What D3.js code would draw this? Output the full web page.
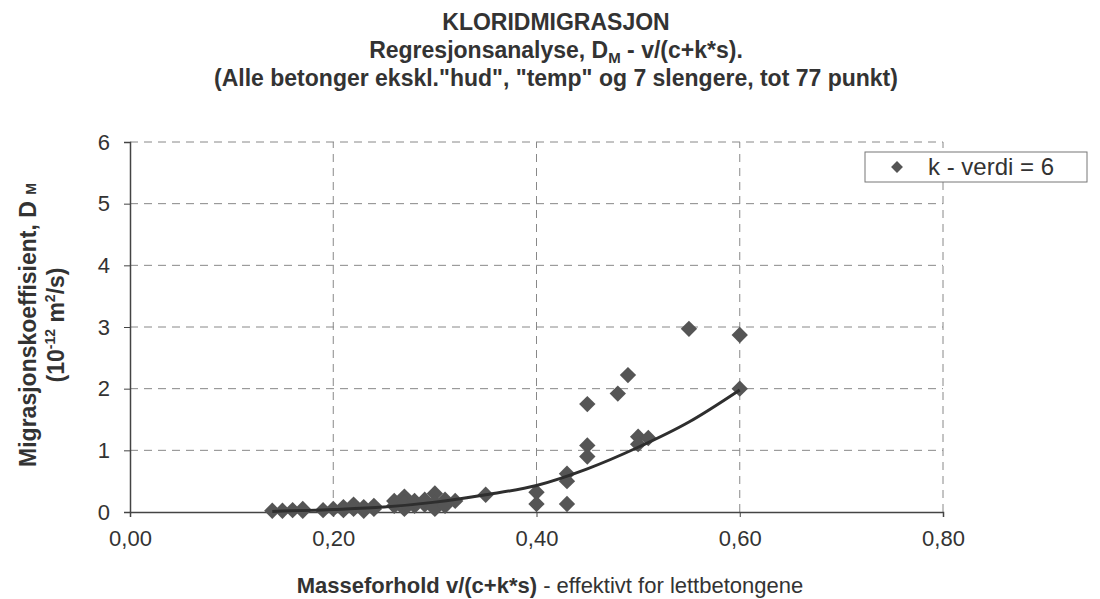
<!DOCTYPE html>
<html>
<head>
  <meta charset="utf-8">
  <title>Kloridmigrasjon</title>
  <script src="https://d3js.org/d3.v7.min.js"></script>
  <style>
    body { margin: 0; background: #fff; }
    svg text { font-family: "Liberation Sans", Arial, sans-serif; fill: #333; }
  </style>
</head>
<body>
  <svg id="chart" width="1100" height="599"></svg>

  <script>
    const massRatio = [0.14, 0.15, 0.16, 0.17, 0.17, 0.19, 0.20, 0.21, 0.21, 0.22, 0.22, 0.23, 0.23, 0.24, 0.24,
      0.26, 0.26, 0.27, 0.27, 0.27, 0.28, 0.28, 0.29, 0.29, 0.30, 0.30, 0.30, 0.31, 0.31, 0.32, 0.35,
      0.40, 0.40, 0.43, 0.43, 0.43, 0.45, 0.45, 0.45, 0.48, 0.49, 0.50, 0.50, 0.51, 0.55, 0.60, 0.60];
    const migration = [0.02, 0.02, 0.03, 0.05, 0.02, 0.03, 0.05, 0.08, 0.03, 0.12, 0.05, 0.02, 0.08, 0.05, 0.10,
      0.10, 0.18, 0.05, 0.25, 0.15, 0.10, 0.18, 0.12, 0.20, 0.30, 0.15, 0.05, 0.20, 0.10, 0.18, 0.28,
      0.32, 0.13, 0.62, 0.50, 0.13, 1.75, 1.08, 0.90, 1.92, 2.22, 1.22, 1.10, 1.20, 2.97, 2.87, 2.00];

    // trend line
    const trendX = [0.14, 0.20, 0.25, 0.30, 0.35, 0.40, 0.45, 0.50, 0.55, 0.60];
    const trendY = [0.01, 0.04, 0.08, 0.16, 0.28, 0.43, 0.70, 1.05, 1.46, 1.98];

    const xTicks = [0, 0.2, 0.4, 0.6, 0.8];
    const yTicks = [0, 1, 2, 3, 4, 5, 6];
    const legendLabel = "k - verdi = 6";

    const svg = d3.select("svg#chart");
    const margins = { top: 142, right: 157, bottom: 87, left: 130 };
    const width = +svg.attr("width");
    const height = +svg.attr("height");

    const xScale = d3.scaleLinear()
      .domain([0, 0.8])
      .range([margins.left, width - margins.right]);
    const yScale = d3.scaleLinear()
      .domain([0, 6])
      .range([height - margins.bottom, margins.top]);

    const gridColor = "#888";
    const axisColor = "#444";

    // gridlines
    const grid = svg.append("g").attr("class", "gridlines");
    grid.selectAll("line.h")
      .data(yTicks.slice(1))
      .join("line")
      .attr("x1", xScale(0)).attr("x2", xScale(0.8))
      .attr("y1", d => yScale(d)).attr("y2", d => yScale(d))
      .attr("stroke", gridColor).attr("stroke-width", 1)
      .attr("stroke-dasharray", "8,6");
    grid.selectAll("line.v")
      .data(xTicks.slice(1))
      .join("line")
      .attr("x1", d => xScale(d)).attr("x2", d => xScale(d))
      .attr("y1", yScale(0)).attr("y2", yScale(6))
      .attr("stroke", gridColor).attr("stroke-width", 1)
      .attr("stroke-dasharray", "8,6");

    // axes
    const bottomAxis = d3.axisBottom(xScale)
      .tickValues(xTicks)
      .tickSize(5)
      .tickFormat(d => d3.format(".2f")(d).replace(".", ","));
    const xAxis = svg.append("g")
      .attr("class", "x-axis")
      .attr("transform", `translate(0,${yScale(0)})`)
      .call(bottomAxis);
    xAxis.selectAll("text")
      .style("font-size", "22px")
      .attr("dy", "1.2em");

    const leftAxis = d3.axisLeft(yScale)
      .tickValues(yTicks)
      .tickSize(6)
      .tickFormat(d3.format("d"));
    const yAxis = svg.append("g")
      .attr("class", "y-axis")
      .attr("transform", `translate(${xScale(0)},0)`)
      .call(leftAxis);
    yAxis.selectAll("text")
      .style("font-size", "22px")
      .attr("x", -20);

    [xAxis, yAxis].forEach(a => {
      a.select(".domain").attr("stroke", axisColor).attr("stroke-width", 1.5);
      a.selectAll(".tick line").attr("stroke", axisColor);
      a.selectAll(".tick text").style("fill", "#333");
    });

    // trend line
    const line = d3.line()
      .x(d => xScale(d[0]))
      .y(d => yScale(d[1]))
      .curve(d3.curveMonotoneX);
    const diamond = d3.symbol().type(d3.symbolDiamond2).size(170);

    // points
    svg.append("g")
      .attr("class", "points")
      .selectAll("path")
      .data(d3.zip(massRatio, migration))
      .join("path")
      .attr("transform", d => `translate(${xScale(d[0])},${yScale(d[1])})`)
      .attr("d", diamond)
      .attr("fill", "#555");

    svg.append("path")
      .attr("d", line(d3.zip(trendX, trendY)))
      .attr("fill", "none")
      .attr("stroke", "#2e2e2e")
      .attr("stroke-width", 3);

    // titles
    const titles = svg.append("g")
      .attr("text-anchor", "middle")
      .style("font-weight", "bold")
      .style("font-size", "23px");
    titles.append("text")
      .attr("x", 556).attr("y", 30)
      .text("KLORIDMIGRASJON");
    const t2 = titles.append("text")
      .attr("x", 556).attr("y", 58);
    t2.append("tspan").text("Regresjonsanalyse, D");
    t2.append("tspan").attr("dy", 5).style("font-size", "15px").text("M");
    t2.append("tspan").attr("dy", -5).text(" - v/(c+k*s).");
    titles.append("text")
      .attr("x", 556).attr("y", 86)
      .text("(Alle betonger ekskl.\"hud\", \"temp\" og 7 slengere, tot 77 punkt)");

    // y axis title
    const yTitle = svg.append("g")
      .attr("transform", `translate(36,${yScale(3) - 2}) rotate(-90)`)
      .attr("text-anchor", "middle")
      .style("font-weight", "bold")
      .style("font-size", "23px");
    const y1 = yTitle.append("text").attr("x", 0).attr("y", 0);
    y1.append("tspan").text("Migrasjonskoeffisient, D ");
    y1.append("tspan").style("font-size", "14px").text("M");
    const y2 = yTitle.append("text").attr("x", 0).attr("y", 28);
    y2.append("tspan").text("(10");
    y2.append("tspan").attr("dy", -9).style("font-size", "14px").text("-12");
    y2.append("tspan").attr("dy", 9).text(" m");
    y2.append("tspan").attr("dy", -9).style("font-size", "14px").text("2");
    y2.append("tspan").attr("dy", 9).text("/s)");

    // x axis title
    const xTitle = svg.append("text")
      .attr("x", 550).attr("y", 593)
      .attr("text-anchor", "middle")
      .style("font-size", "22px");
    xTitle.append("tspan").style("font-weight", "bold").text("Masseforhold v/(c+k*s)");
    xTitle.append("tspan").text(" - effektivt for lettbetongene");

    // legend
    const legend = svg.append("g").attr("transform", "translate(865,152)");
    legend.append("rect")
      .attr("width", 222).attr("height", 30)
      .attr("fill", "#fff")
      .attr("stroke", "#777").attr("stroke-width", 1);
    legend.append("path")
      .attr("transform", "translate(32,15)")
      .attr("d", d3.symbol().type(d3.symbolDiamond2).size(90))
      .attr("fill", "#555");
    legend.append("text")
      .attr("x", 63).attr("y", 23)
      .style("font-size", "24px")
      .text(legendLabel);
  </script>
</body>
</html>
